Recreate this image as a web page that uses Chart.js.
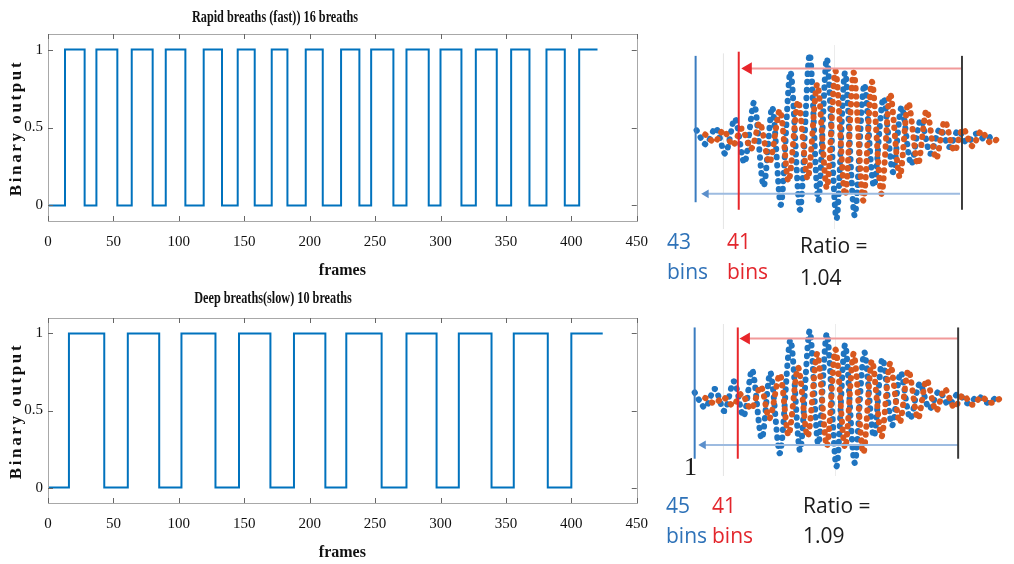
<!DOCTYPE html>
<html>
<head>
<meta charset="utf-8">
<script src="https://cdn.jsdelivr.net/npm/chart.js@4.4.1/dist/chart.umd.min.js"></script>
<style>
  body { margin: 0; background: #fff; }
  #page { position: relative; width: 1014px; height: 564px; overflow: hidden; background: #fff; }
  canvas { position: absolute; }
  .title { position: absolute; font: bold 17px "Liberation Serif", serif; color: #111; white-space: nowrap; line-height: 20px; transform: translateX(-50%) scaleX(0.72); }
  .ylabel { position: absolute; font: bold 17px "Liberation Serif", serif; letter-spacing: 2.6px; color: #111; white-space: nowrap; transform: translate(-50%, -50%) rotate(-90deg); }
  .note { position: absolute; font: 21px "Open Sans", sans-serif; line-height: 30px; white-space: nowrap; }
  .blue { color: #2e72b8; }
  .red { color: #e3262c; }
  .black { color: #1a1a1a; }
</style>
</head>
<body>
<div id="page">
  <canvas id="fastChart" width="660" height="285" style="left:0;top:0"></canvas>
  <canvas id="slowChart" width="660" height="283" style="left:0;top:284px"></canvas>
  <canvas id="fastWave" width="334" height="198" style="left:680px;top:38px"></canvas>
  <canvas id="slowWave" width="334" height="166" style="left:680px;top:317px"></canvas>

  <div class="title" style="left:275px;top:7px">Rapid breaths (fast)) 16 breaths</div>
  <div class="title" style="left:273px;top:288px">Deep breaths(slow) 10 breaths</div>
  <div class="ylabel" style="left:16px;top:128px">Binary output</div>
  <div class="ylabel" style="left:16px;top:411px">Binary output</div>

  <div class="note blue" style="left:667px;top:226px">43<br>bins</div>
  <div class="note red" style="left:727px;top:226px">41<br>bins</div>
  <div class="note black" style="left:800px;top:229px;line-height:32px">Ratio =<br>1.04</div>
  <div class="note black" style="left:684px;top:452px;font:26px 'Liberation Serif',serif">1</div>
  <div class="note blue" style="left:666px;top:490px">45<br>bins</div>
  <div class="note red" style="left:712px;top:490px">41<br>bins</div>
  <div class="note black" style="left:803px;top:490px">Ratio =<br>1.09</div>
</div>

<script>
// breathing detector output: frames where the signal switches on / off
const rapidRise = [13, 37, 64, 90, 119, 145, 171, 197, 224, 247, 274, 300, 327, 354, 381, 406];
const rapidFall = [28, 53, 80, 105, 133, 158, 183, 210, 238, 264, 291, 316, 343, 368, 395];
const rapidEnd = 420;

const deepRise = [16, 61, 102, 146, 188, 228, 274, 314, 356, 400];
const deepFall = [43, 85, 128, 170, 212, 255, 297, 339, 382];
const deepEnd = 424;

const frameTicks = [0, 50, 100, 150, 200, 250, 300, 350, 400, 450];
const binaryTicks = [0, 0.5, 1];

// spectrum traces (sample position, amplitude) read at each peak / trough
const fastBlueX = [10, 20, 30, 40, 50, 60, 70, 80, 89, 98, 108, 118, 128, 137, 146, 156, 165, 175, 185, 195, 205, 215, 224, 234, 244, 254, 264, 274, 283, 292, 302, 311, 320];
const fastBlueY = [0.08, -0.09, 0.11, -0.20, 0.22, -0.31, 0.41, -0.59, 0.36, -0.81, 0.78, -0.87, 0.99, -0.76, 0.94, -0.98, 0.77, -0.94, 0.63, -0.59, 0.47, -0.42, 0.36, -0.33, 0.21, -0.20, 0.10, -0.12, 0.08, -0.07, 0.04, -0.03, 0.03];
const fastOrangeX = [19, 29, 38, 48, 57, 67, 76, 86, 97, 106, 116, 126, 136, 146, 155, 165, 174, 184, 193, 203, 212, 222, 231, 241, 250, 260, 269, 279, 288, 298, 307, 317, 328];
const fastOrangeY = [0.03, -0.06, 0.08, -0.10, 0.10, -0.14, 0.17, -0.31, 0.32, -0.53, 0.43, -0.50, 0.63, -0.61, 0.79, -0.70, 0.77, -0.76, 0.66, -0.68, 0.52, -0.48, 0.41, -0.33, 0.32, -0.26, 0.19, -0.17, 0.10, -0.11, 0.07, -0.07, 0.02];

const slowBlueX = [8, 19, 29, 39, 49, 59, 68, 78, 87, 97, 108, 118, 128, 137, 146, 156, 165, 175, 185, 195, 204, 214, 223, 233, 243, 253, 263, 273, 283, 293, 304, 314, 324];
const slowBlueY = [0.11, -0.11, 0.16, -0.16, 0.27, -0.24, 0.44, -0.56, 0.40, -0.77, 0.87, -0.73, 1.00, -0.64, 0.96, -0.96, 0.80, -0.91, 0.69, -0.53, 0.60, -0.37, 0.40, -0.27, 0.24, -0.13, 0.13, -0.07, 0.09, -0.05, 0.05, -0.04, 0.05];
const slowOrangeX = [19, 29, 38, 48, 57, 67, 77, 86, 97, 106, 116, 126, 136, 146, 155, 165, 174, 184, 193, 203, 212, 222, 231, 241, 250, 260, 269, 279, 288, 298, 307, 317, 328];
const slowOrangeY = [0.03, -0.05, 0.04, -0.08, 0.09, -0.13, 0.20, -0.27, 0.37, -0.51, 0.47, -0.53, 0.67, -0.67, 0.73, -0.69, 0.67, -0.77, 0.57, -0.53, 0.53, -0.33, 0.43, -0.27, 0.29, -0.16, 0.16, -0.11, 0.07, -0.07, 0.04, -0.04, 0.03];

// bin markers: [position, bottom, top]
const fastMarkers = { grey: [38, -1.1, 1.0], grey2: [154, -1.1, 1.1], blue: [9, -0.78, 0.97], red: [54, -0.87, 1.02], black: [287, -0.87, 0.97] };
const slowMarkers = { grey: [38, -1.1, 1.1], grey2: [155, -1.1, 1.1], blue: [8, -0.85, 1.05], red: [53, -0.85, 1.05], black: [283, -0.85, 1.05] };
// arrows: [from, to, level]
const fastArrows = { red: [287, 64, 0.82], blue: [285, 20, -0.68] };
const slowArrows = { red: [283, 62, 0.89], blue: [283, 17, -0.65] };

const lineBlue = '#0072BD';
const dotBlue = '#1f74c0';
const dotOrange = '#d8581f';

function stepPoints(rises, falls, end) {
    const pts = [{ x: 0, y: 0 }];
    rises.forEach((r, i) => {
        pts.push({ x: r, y: 1 });
        if (i < falls.length) pts.push({ x: falls[i], y: 0 });
    });
    pts.push({ x: end, y: 1 });
    return pts;
}

function zipPoints(xs, ys) {
    return xs.map((x, i) => ({ x: x, y: ys[i] }));
}

// matlab style box with inward ticks on all sides
const boxPlugin = {
    id: 'matlabBox',
    afterDraw(chart) {
        const { ctx, chartArea: a, scales: { x, y } } = chart;
        ctx.save();
        ctx.lineWidth = 1;
        ctx.strokeStyle = '#a8a8a8';
        ctx.strokeRect(Math.round(a.left) + 0.5, Math.round(a.top) + 0.5, Math.round(a.width), Math.round(a.height));
        ctx.strokeStyle = '#666';
        ctx.beginPath();
        x.ticks.forEach(t => {
            const px = Math.round(x.getPixelForValue(t.value)) + 0.5;
            ctx.moveTo(px, a.bottom); ctx.lineTo(px, a.bottom - 5);
            ctx.moveTo(px, a.top); ctx.lineTo(px, a.top + 5);
        });
        y.ticks.forEach(t => {
            const py = Math.round(y.getPixelForValue(t.value)) + 0.5;
            ctx.moveTo(a.left, py); ctx.lineTo(a.left + 5, py);
            ctx.moveTo(a.right, py); ctx.lineTo(a.right - 5, py);
        });
        ctx.stroke();
        ctx.restore();
    }
};

function binaryChart(id, points) {
    const tickFont = { family: '"Liberation Serif", serif', size: 15 };
    return new Chart(document.getElementById(id), {
        type: 'line',
        data: {
            datasets: [{
                data: points,
                stepped: true,
                borderColor: lineBlue,
                borderWidth: 2,
                pointRadius: 0,
                fill: false
            }]
        },
        options: {
            responsive: false,
            animation: false,
            layout: { padding: { top: 34, right: 18, left: 0, bottom: 0 } },
            plugins: { legend: { display: false }, tooltip: { enabled: false } },
            scales: {
                x: {
                    type: 'linear',
                    min: 0,
                    max: 450,
                    afterBuildTicks: s => { s.ticks = frameTicks.map(v => ({ value: v })); },
                    afterFit: s => { s.height = 64; },
                    grid: { display: false, drawTicks: false, tickLength: 0 },
                    border: { display: false },
                    ticks: { padding: 12, color: '#111', font: tickFont, maxRotation: 0 },
                    title: {
                        display: true,
                        text: 'frames',
                        color: '#111',
                        font: { family: '"Liberation Serif", serif', size: 16, weight: 'bold' },
                        padding: { top: 0, bottom: 5 }
                    }
                },
                y: {
                    type: 'linear',
                    min: -0.1,
                    max: 1.1,
                    afterBuildTicks: s => { s.ticks = binaryTicks.map(v => ({ value: v })); },
                    afterFit: s => { s.width = 48; },
                    grid: { display: false, drawTicks: false, tickLength: 0 },
                    border: { display: false },
                    ticks: { padding: 5, color: '#111', font: tickFont, callback: v => String(v) }
                }
            }
        },
        plugins: [boxPlugin]
    });
}

function markerSets(markers, arrows) {
    const colors = { grey: '#e4e4e4', grey2: '#ececec', blue: '#3a7cc0', red: '#e8262b', black: '#3a3a3a' };
    const sets = Object.keys(markers).map(k => ({
        data: [{ x: markers[k][0], y: markers[k][1] }, { x: markers[k][0], y: markers[k][2] }],
        showLine: true,
        borderColor: colors[k],
        borderWidth: k.startsWith('grey') ? 1 : 2,
        pointRadius: 0,
        order: k.startsWith('grey') ? 5 : 0
    }));
    const arrowColors = { red: ['#f19a9a', '#e8262b'], blue: ['#9dbbe0', '#5b8fcb'] };
    Object.keys(arrows).forEach(k => {
        const [from, to, level] = arrows[k];
        sets.push({
            data: [{ x: from, y: level }, { x: to, y: level }],
            showLine: true,
            borderColor: arrowColors[k][0],
            borderWidth: 2,
            pointStyle: 'triangle',
            rotation: -90,
            pointRadius: [0, k === 'red' ? 5 : 3],
            pointBackgroundColor: arrowColors[k][1],
            pointBorderColor: arrowColors[k][1],
            order: 0
        });
    });
    return sets;
}

function waveChart(id, bluePts, orangePts, markers, arrows) {
    // thick round dashes give the dotted look of the traces
    const wave = (pts, color, order) => ({
        data: pts,
        showLine: true,
        borderColor: color,
        borderWidth: 6,
        borderDash: [0.5, 7.5],
        borderCapStyle: 'round',
        tension: 0.3,
        pointRadius: 0,
        order: order
    });
    return new Chart(document.getElementById(id), {
        type: 'scatter',
        data: {
            datasets: [wave(bluePts, dotBlue, 2), wave(orangePts, dotOrange, 1)].concat(markerSets(markers, arrows))
        },
        options: {
            responsive: false,
            animation: false,
            layout: { padding: 0 },
            plugins: { legend: { display: false }, tooltip: { enabled: false } },
            scales: {
                x: { type: 'linear', min: 0, max: 334, display: false },
                y: { type: 'linear', min: -1.1, max: 1.1, display: false }
            }
        }
    });
}

document.addEventListener("DOMContentLoaded", function () {
    binaryChart('fastChart', stepPoints(rapidRise, rapidFall, rapidEnd));
    binaryChart('slowChart', stepPoints(deepRise, deepFall, deepEnd));
    waveChart('fastWave', zipPoints(fastBlueX, fastBlueY), zipPoints(fastOrangeX, fastOrangeY), fastMarkers, fastArrows);
    waveChart('slowWave', zipPoints(slowBlueX, slowBlueY), zipPoints(slowOrangeX, slowOrangeY), slowMarkers, slowArrows);
});
</script>
</body>
</html>
